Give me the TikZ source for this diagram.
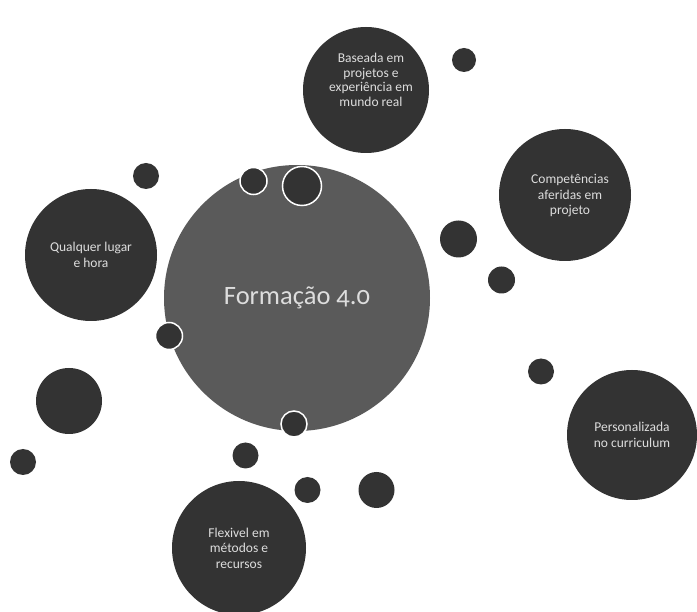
\documentclass[tikz,border=0pt]{standalone}
\usepackage{fontspec}
\setmainfont{Carlito}[Numbers=OldStyle]
\definecolor{darkc}{HTML}{333333}
\definecolor{midc}{HTML}{5A5A5A}
\definecolor{txtc}{HTML}{DDDDDD}
\begin{document}
\begin{tikzpicture}[x=1pt,y=-1pt,
  bigc/.style={circle,fill=darkc,inner sep=0pt,minimum size=#1,text=txtc,align=center,font=\fontsize{13.5}{15.5}\selectfont},
  dotc/.style={circle,fill=darkc,inner sep=0pt,minimum size=#1},
  ringc/.style={circle,fill=darkc,draw=white,line width=1.5pt,inner sep=0pt,minimum size=#1}]
\useasboundingbox (0,0) rectangle (697,612);
\clip (0,0) rectangle (697,612);
\fill[white] (0,0) rectangle (697,612);
% central
\node[circle,fill=midc,inner sep=0pt,minimum size=266pt,text=txtc,font=\fontsize{26.5}{32}\selectfont] (main) at (297,298) {Formação 4.0};
% big dark circles
\node[bigc=126pt] (base) at (366,90) {};
\node[text=txtc,align=center,font=\fontsize{13.5}{14.5}\selectfont] (baset) at (371,80) {Baseada em\\projetos e\\experiência em\\mundo real};
\node[bigc=132pt] (comp) at (565,195) {};
\node[text=txtc,align=center,font=\fontsize{13.5}{15.5}\selectfont] (compt) at (570,196) {Competências\\aferidas em\\projeto};
\node[bigc=132pt] (qual) at (91,255) {Qualquer lugar\\e hora};
\node[bigc=130pt] (pers) at (632,435) {Personalizada\\no curriculum};
\node[bigc=134pt] (flex) at (239,548) {Flexivel em\\métodos e\\recursos};
% small circles
\node[dotc=24pt] (d1) at (464,60) {};
\node[dotc=26pt] (d2) at (146,176) {};
\node[ringc=27pt] (r1) at (253.5,181) {};
\node[ringc=39pt] (r2) at (302,186) {};
\node[dotc=37pt] (d3) at (458.5,239) {};
\node[dotc=27pt] (d4) at (501.5,280) {};
\node[ringc=27pt] (r3) at (169,336) {};
\node[dotc=26pt] (d5) at (541,371.5) {};
\node[dotc=66pt] (d6) at (69,401) {};
\node[ringc=26pt] (r4) at (294,424) {};
\node[dotc=26pt] (d7) at (23,462) {};
\node[dotc=26pt] (d8) at (245.5,455.5) {};
\node[dotc=26pt] (d9) at (307.5,490) {};
\node[dotc=36pt] (d10) at (376.5,490) {};
\end{tikzpicture}
\end{document}
